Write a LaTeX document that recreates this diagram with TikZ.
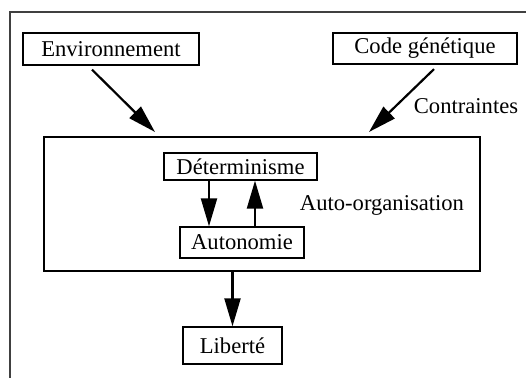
\documentclass[tikz,border=0pt]{standalone}
\usepackage{fontspec}
\setmainfont{Liberation Serif}
\usetikzlibrary{arrows.meta,calc}
\begin{document}
\begin{tikzpicture}[x=0.5pt,y=-0.5pt,
  box/.style={draw,line width=0.65pt,inner sep=0pt,font=\fontsize{11.3}{13}\selectfont},
  lbl/.style={inner sep=0pt,font=\fontsize{11.3}{13}\selectfont},
  arr/.style={line width=1.1pt,-{Triangle[length=14pt,width=8pt]}}]
  \useasboundingbox (0,0) rectangle (526,378);
  % outer frame (top and left edges)
  \draw[line width=0.6pt,black!75] (10,378) -- (10,12) -- (526,12);

  % boxes
  \node[box,minimum width=88pt,minimum height=16pt] (env) at (111,49) {Environnement};
  \node[box,minimum width=92pt,minimum height=15.5pt] (code) at (425,48.5) {Code génétique};
  \node[box,minimum width=218pt,minimum height=67pt] (main) at (262,204) {};
  \node[box,minimum width=76.5pt,minimum height=13.5pt] (det) at (240.5,166.5) {Déterminisme};
  \node[box,minimum width=62pt,minimum height=15.5pt] (auto) at (242,242.5) {Autonomie};
  \node[box,minimum width=49.5pt,minimum height=18.5pt] (lib) at (232.5,345.5) {Liberté};

  % labels
  \node[lbl] (ao) at (382,205) {Auto-organisation};
  \node[lbl] (ctr) at (466,106) {Contraintes};

  % arrows into the self-organisation box
  \coordinate (envtip) at (155,132);
  \coordinate (codetip) at (369,132);
  \draw[arr] ($(env.south)+(-19,4)$) -- (envtip);
  \draw[arr] ($(code.south)+(9,4.5)$) -- (codetip);

  % feedback between determinism and autonomy
  \coordinate (xd) at (209,0);
  \coordinate (xu) at (255,0);
  \draw[arr] (det.south -| xd) -- (auto.north -| xd);
  \draw[arr] (auto.north -| xu) -- (det.south -| xu);

  % outcome
  \draw[arr] (main.south -| lib.north) -- (lib.north);
\end{tikzpicture}
\end{document}
